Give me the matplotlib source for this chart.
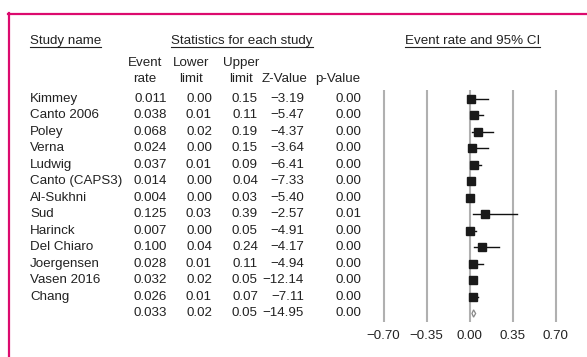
import matplotlib
matplotlib.use("Agg")
import matplotlib.pyplot as plt
import matplotlib.transforms as mtransforms
from matplotlib.lines import Line2D
from matplotlib.patches import Polygon

plt.rcParams['font.family'] = ['Liberation Sans', 'DejaVu Sans']

studies = ["Kimmey", "Canto 2006", "Poley", "Verna", "Ludwig", "Canto (CAPS3)",
           "Al-Sukhni", "Sud", "Harinck", "Del Chiaro", "Joergensen", "Vasen 2016",
           "Chang", ""]
event_rate = [0.011, 0.038, 0.068, 0.024, 0.037, 0.014, 0.004, 0.125, 0.007,
              0.100, 0.028, 0.032, 0.026, 0.033]
lower = [0.00, 0.01, 0.02, 0.00, 0.01, 0.00, 0.00, 0.03, 0.00, 0.04, 0.01, 0.02,
         0.01, 0.02]
upper = [0.15, 0.11, 0.19, 0.15, 0.09, 0.04, 0.03, 0.39, 0.05, 0.24, 0.11, 0.05,
         0.07, 0.05]
z_value = [-3.19, -5.47, -4.37, -3.64, -6.41, -7.33, -5.40, -2.57, -4.91, -4.17,
           -4.94, -12.14, -7.11, -14.95]
p_value = [0.00, 0.00, 0.00, 0.00, 0.00, 0.00, 0.00, 0.01, 0.00, 0.00, 0.00, 0.00,
           0.00, 0.00]
x_ticks = [-0.70, -0.35, 0.00, 0.35, 0.70]

W, H = 587, 357
fig = plt.figure(figsize=(W / 100, H / 100), dpi=100)

# forest-plot axes, rows indexed 0..13 top-down
row0, row_step = 99.0, 16.5
ax_top, ax_bot = 85.0, 325.0
ax_left, ax_right = 370.0, 570.0
ax = fig.add_axes([ax_left / W, 1 - ax_bot / H, (ax_right - ax_left) / W,
                   (ax_bot - ax_top) / H])
ppu = (555.5 - 383.5) / 1.4
ax.set_xlim(-0.70 - (383.5 - ax_left) / ppu, 0.70 + (ax_right - 555.5) / ppu)
ax.set_ylim((ax_bot - row0) / row_step, (ax_top - row0) / row_step)
for s in ax.spines.values():
    s.set_visible(False)

fs = 9.6
tc = "#222222"

ax.set_yticks([])
ax.set_xticks(x_ticks)
ax.set_xticklabels([f"{t:.2f}".replace("-", "\u2212") for t in x_ticks],
                   fontsize=fs, color=tc)
ax.tick_params(axis="x", length=0, pad=3.5)

grid_top = (90 - row0) / row_step
grid_bot = (322 - row0) / row_step
for t in x_ticks:
    ax.plot([t, t], [grid_top, grid_bot], color="#b0b0b0", lw=1.5,
            solid_capstyle="butt", zorder=1)

n = len(studies)
for i in range(n - 1):
    ax.plot([lower[i], upper[i]], [i, i], color="#111111", lw=1.0, zorder=2)
    ax.plot(event_rate[i], i, marker="s", ms=6.2, color="#1a1a1a",
            mec="#1a1a1a", zorder=3)

# summary diamond
i = n - 1
dh = 0.22
ax.add_patch(Polygon([[lower[i], i], [event_rate[i], i - dh], [upper[i], i],
                      [event_rate[i], i + dh]], closed=True, fill=False,
                     ec="#888888", lw=0.9, zorder=3))

# table text, x in figure pixels, y in row units
trans = mtransforms.blended_transform_factory(fig.transFigure, ax.transData)

def tx(px, row, s, ha="left"):
    return fig.text(px / W, row, s, transform=trans, ha=ha, va="center",
                    fontsize=fs, color=tc)

for i in range(n):
    tx(30, i, studies[i])
    tx(167, i, f"{event_rate[i]:.3f}", "right")
    tx(212, i, f"{lower[i]:.2f}", "right")
    tx(258, i, f"{upper[i]:.2f}", "right")
    tx(304, i, f"{z_value[i]:.2f}".replace("-", "\u2212"), "right")
    tx(361, i, f"{p_value[i]:.2f}", "right")

# column sub-headers
r1 = (63 - row0) / row_step
r2 = (79 - row0) / row_step
for cx, a, b in [(145, "Event", "rate"), (191.5, "Lower", "limit"),
                 (241, "Upper", "limit")]:
    tx(cx, r1, a, "center")
    tx(cx, r2, b, "center")
tx(285, r2, "Z-Value", "center")
tx(338, r2, "p-Value", "center")

# underlined section headers
rh = (41.5 - row0) / row_step
fig.canvas.draw()
renderer = fig.canvas.get_renderer()
for px, s, ha in [(30, "Study name", "left"),
                  (242, "Statistics for each study", "center"),
                  (472.5, "Event rate and 95% CI", "center")]:
    t = tx(px, rh, s, ha)
    bb = t.get_window_extent(renderer)
    yline = 1 - 47.0 / H
    fig.add_artist(Line2D([bb.x0 / W, bb.x1 / W], [yline, yline],
                          transform=fig.transFigure, color=tc, lw=0.8))

# frame on top and left
bc = "#dc0a6e"
fig.add_artist(Line2D([8 / W, 1.0], [1 - 14 / H, 1 - 14 / H],
                      transform=fig.transFigure, color=bc, lw=1.6))
fig.add_artist(Line2D([8.5 / W, 8.5 / W], [1 - 13.3 / H, 0.0],
                      transform=fig.transFigure, color=bc, lw=1.6))

fig.savefig("out.png", dpi=100)
